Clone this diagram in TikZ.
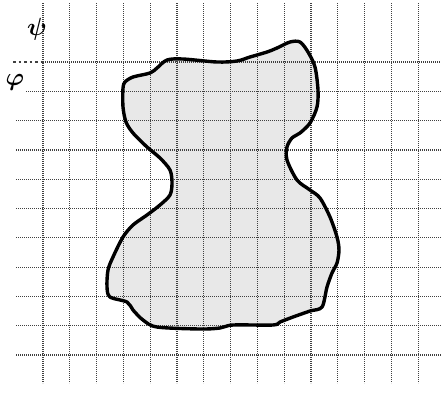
\documentclass[tikz,border=0pt]{standalone}
\usepackage{amsmath,bm}
\usepackage{tikz}
\tikzset{
  gridln/.style={dash pattern=on 1.2pt off 0.8pt,line width=1.2pt,black!75},
  blob/.style={line width=3.4pt,line join=round},
  lbl/.style={inner sep=0pt,font=\fontsize{27}{30}\selectfont}
}

\begin{document}
\begin{tikzpicture}[x=1pt,y=-1pt]
\useasboundingbox (0,0) rectangle (441,392);
\def\outline{(123,88) (125,82) (133,77) (150,73) (157,68) (167,60) (183,59) (217,62) (237,61) (250,57) (267,52) (277,48) (290,42) (300,42) (308,52) (315,67) (318,90) (317,107) (310,123) (300,133) (292,138) (287,147) (287,160) (297,180) (310,190) (320,198) (330,217) (337,237) (339,250) (337,263) (332,273) (327,287) (322,307) (310,311) (293,317) (280,322) (273,325) (233,325) (220,328) (200,329) (157,327) (143,320) (133,310) (127,302) (110,297) (107,287) (108,270) (113,257) (123,237) (133,225) (147,215) (160,205) (170,195) (172,183) (170,170) (160,158) (147,147) (133,133) (126,122) (123,107)}
\fill[gray!18] plot[smooth cycle,tension=0.5] coordinates \outline;
% grid
\foreach \i in {0,...,14} \draw[gridln] ({43+26.8*\i},3) -- ({43+26.8*\i},383);
\foreach \j in {2,...,10} \draw[gridln] (16,{62+29.3*\j}) -- (441,{62+29.3*\j});
\draw[gridln] (26,91.3) -- (441,91.3);
\draw[gridln] (43,62) -- (441,62);
\draw[line width=1.2pt,black!75,dash pattern=on 2.5pt off 3pt] (13,62) -- (43,62);
% region
\draw[blob] plot[smooth cycle,tension=0.5] coordinates \outline;
\node[lbl] (psi) at (37,29) {$\bm{\psi}$};
\node[lbl] (phi) at (15,82) {$\bm{\varphi}$};
\end{tikzpicture}
\end{document}
